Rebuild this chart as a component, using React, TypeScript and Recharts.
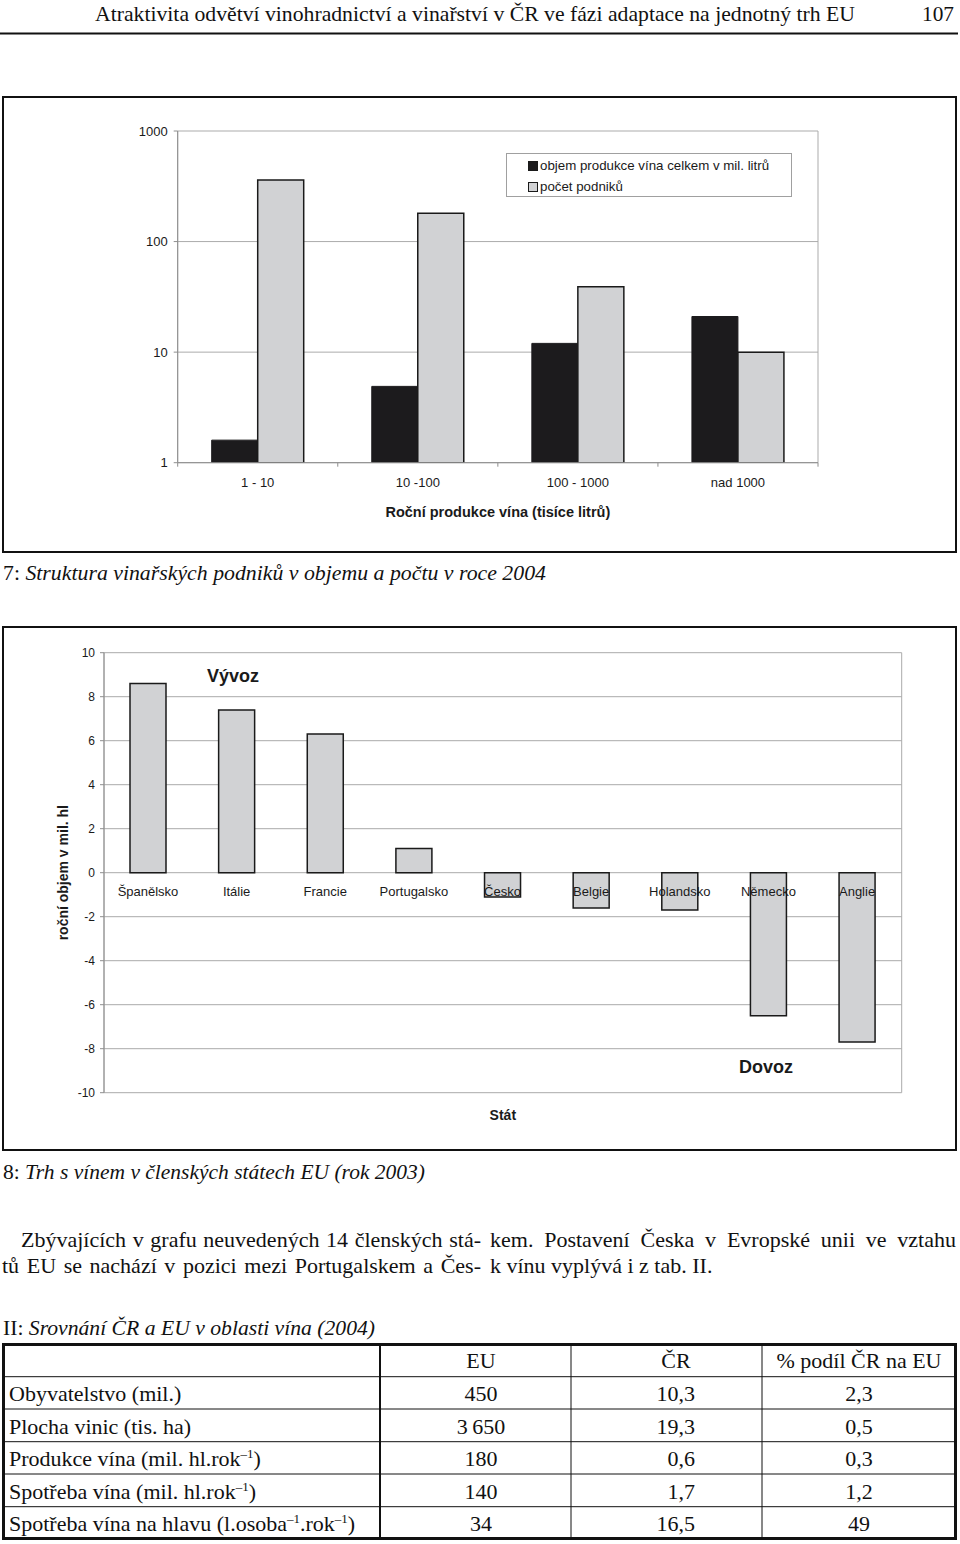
import React from 'react';
import { BarChart, Bar, XAxis, YAxis, CartesianGrid, Legend, LabelList } from 'recharts';

// ---------- data: chart 7 ----------
const sizeCategories = ['1 - 10', '10 -100', '100 - 1000', 'nad 1000'];
const volumeValues = [1.6, 4.9, 12, 21];
const companyCounts = [360, 180, 39, 10];
const logTicks = [1, 10, 100, 1000];
const volumeName = 'objem produkce vína celkem v mil. litrů';
const countName = 'počet podniků';

// ---------- data: chart 8 ----------
const countries = ['Španělsko', 'Itálie', 'Francie', 'Portugalsko', 'Česko', 'Belgie', 'Holandsko', 'Německo', 'Anglie'];
const tradeBalance = [8.6, 7.4, 6.3, 1.1, -1.1, -1.6, -1.7, -6.5, -7.7];
const tradeTicks = [-10, -8, -6, -4, -2, 0, 2, 4, 6, 8, 10];

// ---------- data: table II ----------
const tableColumns = ['EU', 'ČR', '% podíl ČR na EU'];
const tableRowLabels = [
  'Obyvatelstvo (mil.)',
  'Plocha vinic (tis. ha)',
  'Produkce vína (mil. hl.rok^–1^)',
  'Spotřeba vína (mil. hl.rok^–1^)',
  'Spotřeba vína na hlavu (l.osoba^–1^.rok^–1^)',
];
const tableEU = ['450', '3\u2009650', '180', '140', '34'];
const tableCR = ['10,3', '19,3', '0,6', '1,7', '16,5'];
const tableShare = ['2,3', '0,5', '0,3', '1,2', '49'];

const prodData = sizeCategories.map((c, i) => ({ cat: c, volume: volumeValues[i], count: companyCounts[i] }));
const tradeData = countries.map((c, i) => ({ country: c, value: tradeBalance[i] }));

const SERIF = "'Liberation Serif', 'Times New Roman', serif";
const SANS = "'Liberation Sans', Arial, sans-serif";
const INK = '#1a1a1a';
const GRID = '#ababab';
const AXIS = '#8e8e8e';
const BLACK_BAR = '#1c1b1d';
const GRAY_BAR = '#d1d2d4';

const SizeTick = (props: any) => {
  const { x, y, payload, index } = props;
  const half = payload && typeof payload.offset === 'number' ? payload.offset : 0;
  const last = index === sizeCategories.length - 1;
  return (
    <g>
      <line x1={x - half} x2={x - half} y1={y} y2={y + 4} stroke={AXIS} />
      {last && <line x1={x + half} x2={x + half} y1={y} y2={y + 4} stroke={AXIS} />}
      <text x={x} y={y + 24.6} textAnchor="middle" fontSize={13} fill={INK} fontFamily={SANS}>
        {payload.value}
      </text>
    </g>
  );
};

const CountryLabel = (props: any) => {
  const vb = props.viewBox || props;
  const { x, y, width, height } = vb;
  const idx = countries.indexOf(props.value);
  const v = tradeBalance[idx] ?? 0;
  const top = Math.min(y, y + height);
  const bottom = Math.max(y, y + height);
  const zero = v >= 0 ? bottom : top;
  return (
    <text x={x + width / 2} y={zero + 23.6} textAnchor="middle" fontSize={13} fill={INK} fontFamily={SANS}>
      {props.value}
    </text>
  );
};

const LegendBox = (props: any) => {
  const payload = props.payload || [];
  return (
    <div
      style={{
        boxSizing: 'border-box',
        width: '100%',
        height: '100%',
        border: '1px solid #a0a0a0',
        background: '#fff',
        padding: '1px 0 0 21px',
        fontFamily: SANS,
        fontSize: 13.3,
        color: INK,
        lineHeight: '21px',
      }}
    >
      {payload.map((e: any, i: number) => (
        <div key={i} style={{ whiteSpace: 'nowrap', display: 'flex', alignItems: 'center', height: 21 }}>
          <span
            style={{
              display: 'inline-block',
              boxSizing: 'border-box',
              width: 10,
              height: 10,
              background: e.color,
              border: `1px solid ${INK}`,
              marginRight: 2,
            }}
          />
          <span>{e.value}</span>
        </div>
      ))}
    </div>
  );
};

const rightEdge = (p: any) => (p && p.offset ? [p.offset.left, p.offset.left + p.offset.width] : []);

const renderLabel = (s: string) => {
  const parts = s.split('^');
  return parts.map((seg, i) =>
    i % 2 === 1 ? (
      <tspan key={i} dy={-8} fontSize={13}>{seg}</tspan>
    ) : (
      <tspan key={i} dy={i > 0 ? 8 : 0}>{seg}</tspan>
    )
  );
};

const rowLines = [1376.7, 1409, 1441.7, 1474, 1506.7];
const rowBaselines = [1401, 1433.5, 1466, 1498.5, 1530.5];

const Para = ({ left, top, width, justify, children }: any) => (
  <div
    style={{
      position: 'absolute',
      left,
      top,
      width,
      fontFamily: SERIF,
      fontSize: 22,
      lineHeight: '26px',
      color: '#111',
      textAlign: justify ? 'justify' : 'left',
      textAlignLast: justify ? 'justify' : 'left',
      whiteSpace: 'normal',
    }}
  >
    {children}
  </div>
);

export default function App() {
  return (
    <div style={{ position: 'absolute', left: 0, top: 0, width: 960, height: 1544, background: '#fff', overflow: 'hidden' }}>
      {/* frames */}
      <div style={{ position: 'absolute', left: 2, top: 96, width: 955, height: 457, border: '2px solid #111', boxSizing: 'border-box' }} />
      <div style={{ position: 'absolute', left: 2, top: 626, width: 955, height: 525, border: '2px solid #111', boxSizing: 'border-box' }} />

      {/* chart 7 */}
      <div style={{ position: 'absolute', left: 0, top: 96, fontFamily: SANS }}>
        <BarChart
          width={960}
          height={456}
          data={prodData}
          margin={{ top: 35, right: 142, bottom: 0, left: 117.7 }}
          barGap={0}
        >
          <CartesianGrid stroke={GRID} vertical={true} verticalCoordinatesGenerator={rightEdge} />
          <XAxis
            dataKey="cat"
            height={89.3}
            interval={0}
            tickLine={false}
            tickSize={0}
            tickMargin={0}
            axisLine={{ stroke: AXIS }}
            tick={<SizeTick />}
            label={{
              value: 'Roční produkce vína (tisíce litrů)',
              position: 'insideBottom',
              offset: 35,
              fontSize: 14.5,
              fontWeight: 'bold',
              fill: INK,
              fontFamily: SANS,
            }}
          />
          <YAxis
            scale="log"
            domain={[1, 1000]}
            ticks={logTicks}
            allowDataOverflow
            width={60}
            tickSize={4}
            tickMargin={6}
            axisLine={{ stroke: AXIS }}
            tickLine={{ stroke: AXIS }}
            tick={{ fontSize: 13, fill: INK, fontFamily: SANS }}
          />
          <Bar dataKey="volume" name={volumeName} fill={BLACK_BAR} stroke={BLACK_BAR} strokeWidth={1} barSize={46} isAnimationActive={false} />
          <Bar dataKey="count" name={countName} fill={GRAY_BAR} stroke={INK} strokeWidth={1.5} barSize={46} isAnimationActive={false} />
          <Legend
            layout="horizontal"
            verticalAlign="middle"
            align="center"
            content={<LegendBox />}
            wrapperStyle={{ left: 506, top: 57, width: 286, height: 44 }}
          />
        </BarChart>
      </div>

      {/* chart 8 */}
      <div style={{ position: 'absolute', left: 0, top: 626, fontFamily: SANS }}>
        <BarChart width={960} height={524} data={tradeData} margin={{ top: 26.7, right: 58.3, bottom: 12.7, left: 22 }}>
          <CartesianGrid stroke={GRID} vertical={true} verticalCoordinatesGenerator={rightEdge} />
          <XAxis
            dataKey="country"
            height={44.6}
            tick={false}
            tickLine={false}
            axisLine={false}
            label={{ value: 'Stát', position: 'center', fontSize: 14, fontWeight: 'bold', fill: INK, fontFamily: SANS }}
          />
          <YAxis
            domain={[-10, 10]}
            ticks={tradeTicks}
            width={82}
            tickSize={4}
            tickMargin={5}
            axisLine={{ stroke: AXIS }}
            tickLine={{ stroke: AXIS }}
            tick={{ fontSize: 12, fill: INK, fontFamily: SANS }}
            label={{
              value: 'roční objem v mil. hl',
              angle: -90,
              position: 'center',
              fontSize: 14,
              fontWeight: 'bold',
              fill: INK,
              fontFamily: SANS,
            }}
          />
          <Bar dataKey="value" fill={GRAY_BAR} stroke={INK} strokeWidth={1.5} barSize={36} isAnimationActive={false}>
            <LabelList dataKey="country" content={<CountryLabel />} />
          </Bar>
        </BarChart>
      </div>

      {/* page overlay */}
      <svg width={960} height={1544} style={{ position: 'absolute', left: 0, top: 0, pointerEvents: 'none' }}>
        <g fontFamily={SERIF} fill="#111" style={{ whiteSpace: 'pre' }}>
          <text x={95} y={21} fontSize={21} textLength={760} lengthAdjust="spacingAndGlyphs">
            Atraktivita odvětví vinohradnictví a vinařství v ČR ve fázi adaptace na jednotný trh EU
          </text>
          <text x={922} y={21} fontSize={21} textLength={32} lengthAdjust="spacingAndGlyphs">107</text>
          <line x1={0} x2={958} y1={33.5} y2={33.5} stroke="#111" strokeWidth={2} />

          <text x={3} y={580} fontSize={21} textLength={543} lengthAdjust="spacingAndGlyphs">
            <tspan>7: </tspan>
            <tspan fontStyle="italic">Struktura vinařských podniků v objemu a počtu v roce 2004</tspan>
          </text>
          <text x={3} y={1179} fontSize={21} textLength={422} lengthAdjust="spacingAndGlyphs">
            <tspan>8: </tspan>
            <tspan fontStyle="italic">Trh s vínem v členských státech EU (rok 2003)</tspan>
          </text>
          <text x={3} y={1335} fontSize={21} textLength={372} lengthAdjust="spacingAndGlyphs">
            <tspan>II: </tspan>
            <tspan fontStyle="italic">Srovnání ČR a EU v oblasti vína (2004)</tspan>
          </text>
        </g>

        <g fontFamily={SANS} fontWeight="bold" fill={INK} fontSize={18}>
          <text x={207} y={682}>Vývoz</text>
          <text x={739} y={1073}>Dovoz</text>
        </g>

        {/* table */}
        <g stroke="#111" fill="none">
          <rect x={3.5} y={1344.5} width={952} height={194} strokeWidth={3} />
          <line x1={380} x2={380} y1={1344} y2={1539} strokeWidth={2} />
          <line x1={571} x2={571} y1={1344} y2={1539} strokeWidth={1} />
          <line x1={762} x2={762} y1={1344} y2={1539} strokeWidth={1} />
          {rowLines.map((y, i) => (
            <line key={i} x1={3} x2={956} y1={y} y2={y} strokeWidth={1} />
          ))}
        </g>
        <g fontFamily={SERIF} fontSize={22} fill="#111">
          <text x={481} y={1368} textAnchor="middle">{tableColumns[0]}</text>
          <text x={676} y={1368} textAnchor="middle">{tableColumns[1]}</text>
          <text x={859} y={1368} textAnchor="middle">{tableColumns[2]}</text>
          {tableRowLabels.map((lab, i) => (
            <text key={'l' + i} x={9} y={rowBaselines[i]}>{renderLabel(lab)}</text>
          ))}
          {tableEU.map((v, i) => (
            <text key={'e' + i} x={481} y={rowBaselines[i]} textAnchor="middle">{v}</text>
          ))}
          {tableCR.map((v, i) => (
            <text key={'c' + i} x={695} y={rowBaselines[i]} textAnchor="end">{v}</text>
          ))}
          {tableShare.map((v, i) => (
            <text key={'s' + i} x={859} y={rowBaselines[i]} textAnchor="middle">{v}</text>
          ))}
        </g>
      </svg>

      {/* paragraph */}
      <Para left={21} top={1227} width={460} justify>Zbývajících v grafu neuvedených 14 členských stá-</Para>
      <Para left={2} top={1253} width={479} justify>tů EU se nachází v pozici mezi Portugalskem a Čes-</Para>
      <Para left={490} top={1227} width={466} justify>kem. Postavení Česka v Evropské unii ve vztahu</Para>
      <Para left={490} top={1253} width={466}>k vínu vyplývá i z tab. II.</Para>
    </div>
  );
}
